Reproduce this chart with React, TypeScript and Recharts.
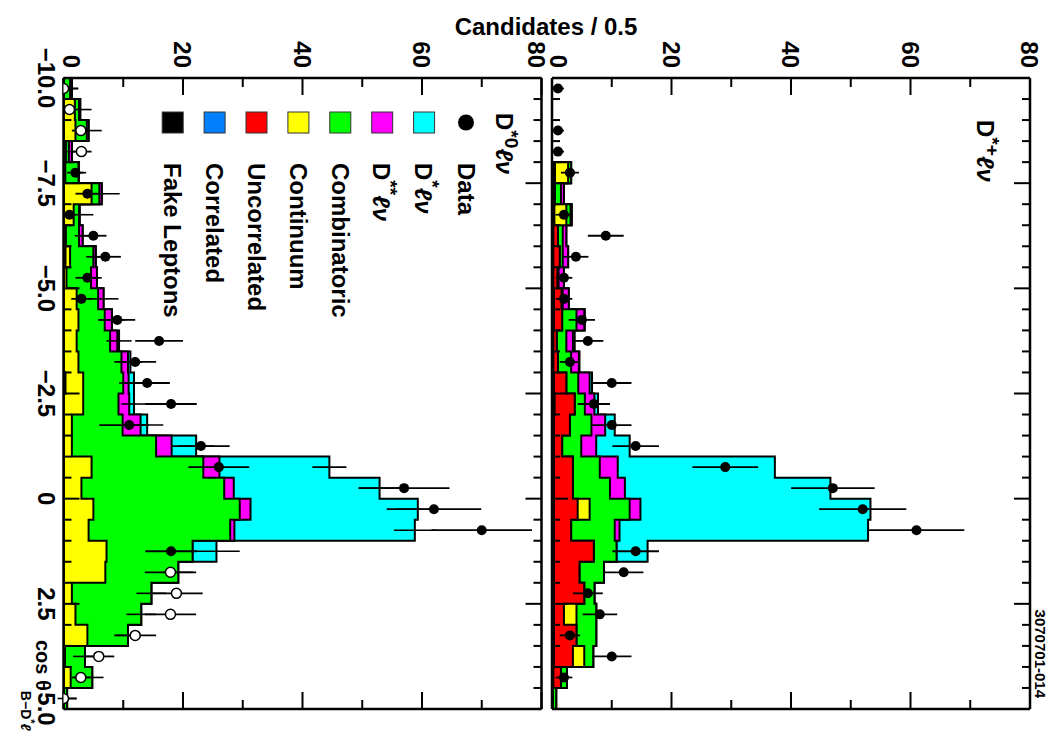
import React from 'react';
import { ComposedChart, Area, Scatter, XAxis, YAxis, ErrorBar, Legend, ReferenceLine } from 'recharts';

const FONT = '"Liberation Sans", Arial, Helvetica, sans-serif';

// The figure is laid out upright (731 x 1056) and then turned a quarter turn clockwise.
const PAGE_W = 1056;
const FRAME_W = 731;
const FRAME_H = 1056;
const PLOT_W = 631; // cos axis length in px
const PLOT_H = 478; // count axis length in px

// ---- binning of cos(theta_B-D*l): 30 bins, 0.5 wide, from -10 to 5 ----
const binLowEdges = [
  -10, -9.5, -9, -8.5, -8, -7.5, -7, -6.5, -6, -5.5, -5, -4.5, -4, -3.5, -3,
  -2.5, -2, -1.5, -1, -0.5, 0, 0.5, 1, 1.5, 2, 2.5, 3, 3.5, 4, 4.5,
];
const binCenters = [
  -9.75, -9.25, -8.75, -8.25, -7.75, -7.25, -6.75, -6.25, -5.75, -5.25, -4.75, -4.25, -3.75, -3.25, -2.75,
  -2.25, -1.75, -1.25, -0.75, -0.25, 0.25, 0.75, 1.25, 1.75, 2.25, 2.75, 3.25, 3.75, 4.25, 4.75,
];
const COS_MIN = -10;
const COS_MAX = 5;
const COUNT_MAX = 80;

const cosMajorTicks = [-10, -7.5, -5, -2.5, 0, 2.5, 5];
const cosMinorTicks = [
  -9.5, -9, -8.5, -8, -7, -6.5, -6, -5.5, -4.5, -4, -3.5, -3,
  -2, -1.5, -1, -0.5, 0.5, 1, 1.5, 2, 3, 3.5, 4, 4.5,
];
const countMajorTicks = [0, 20, 40, 60, 80];
const countMinorTicks = [10, 30, 50, 70];

// ---- D*+ l nu sample: expected contributions per bin ----
const fakePlus = [0, 0, 0, 0, 0.2, 0.2, 0.2, 0.2, 0.2, 0.2, 0.3, 0.3, 0.2, 0.2, 0.3, 0.4, 0.3, 0.3, 0.3, 0.3, 0.3, 0.3, 0.3, 0.3, 0.3, 0.3, 0.3, 0.3, 0.2, 0.1];
const corrPlus = [0, 0, 0, 0, 0, 0, 0, 0, 0, 0, 0, 0, 0, 0, 0, 0, 0, 0, 0, 0, 0, 0, 0, 0, 0, 0, 0, 0, 0, 0];
const uncPlus = [0, 0, 0, 0, 0.3, 0.3, 0.2, 0.8, 1.1, 0.7, 1.3, 1.4, 0.6, 0.8, 2.1, 3.4, 2.7, 1.4, 3.2, 3.2, 4.0, 2.9, 6.7, 4.3, 5.1, 1.7, 3.8, 3.2, 1.3, 0];
const contPlus = [0, 0, 0, 0, 2.2, 0, 2.0, 0, 0, 0, 0, 0, 0, 0, 0, 0, 0, 0, 0, 0, 2.0, 0, 0, 0, 0, 2.1, 0, 1.9, 0, 0];
const combPlus = [0, 0, 0, 0, 0.5, 1.0, 0.7, 0.8, 0.5, 0.2, 0.2, 2.4, 1.6, 2.2, 2.0, 1.7, 3.6, 3.2, 4.5, 6.2, 6.7, 7.3, 3.8, 4.1, 1.7, 3.3, 3.3, 1.5, 1.0, 0.6];
const dssPlus = [0, 0, 0, 0, 0, 0.5, 0.2, 0.6, 0.9, 0.9, 1.0, 1.3, 1.1, 1.3, 1.9, 1.6, 2.3, 2.5, 3.0, 2.5, 1.8, 0.8, 0, 0, 0, 0, 0, 0, 0, 0];
const dsPlus = [0, 0, 0, 0, 0, 0, 0, 0, 0, 0, 0, 0.1, 0.3, 0.1, 0.4, 0.6, 1.6, 5.6, 26.3, 34.4, 38.5, 41.6, 5.2, 0, 0, 0, 0, 0, 0, 0];

// D*+ l nu data (null = empty bin) and its uncertainties
const dataPlus = [1, null, 1, 1, 3, null, 2, 9, 4, 2, 2, 5, 6, 3, 10, 7, 10, 14, 29, 47, 52, 61, 14, 12, 6, 8, 3, 10, 2, null];
const errPlus = [1.0, 0, 1.0, 1.0, 1.5, 0, 1.4, 3.0, 2.1, 1.4, 1.4, 2.2, 2.6, 1.7, 3.3, 2.7, 3.3, 3.9, 5.5, 7.0, 7.3, 8.0, 3.9, 3.3, 2.5, 2.9, 1.7, 3.3, 1.4, 0];

// ---- D*0 l nu sample: expected contributions per bin ----
const fakeZero = [0, 0, 0, 0, 0, 0, 0, 0, 0, 0, 0, 0, 0, 0, 0, 0, 0, 0, 0, 0, 0, 0, 0, 0, 0, 0, 0, 0.2, 0, 0];
const corrZero = [0, 0, 0, 0, 0, 0, 0, 0, 0.3, 0, 0, 0, 0, 0, 0.3, 0, 0, 0, 0, 0, 0, 0, 0, 0, 0, 0, 0, 0, 0, 0];
const uncZero = [0, 0, 0, 0, 0, 0, 0, 0, 0, 0, 0, 0, 0, 0, 0, 0, 0, 0, 0, 0, 0, 0, 0, 0, 0, 0, 0, 0, 0, 0];
const contZero = [0, 1.9, 2.0, 0.4, 0.3, 4.7, 1.7, 0.4, 0.8, 0.5, 2.2, 2.5, 2.2, 2.5, 3.0, 3.3, 1.4, 1.4, 4.7, 3.0, 5.0, 4.2, 7.2, 7.0, 1.4, 2.0, 4.0, 0, 1.2, 0];
const combZero = [1.1, 0.7, 1.9, 0.5, 2.2, 1.3, 0.9, 2.2, 3.9, 4.1, 3.6, 4.4, 5.6, 7.2, 6.7, 5.9, 8.5, 14.1, 18.7, 23.9, 24.5, 23.7, 14.4, 12.2, 13.3, 11.0, 6.8, 3.4, 3.6, 0.6];
const dssZero = [0.3, 0.2, 0.3, 0.5, 0.1, 0.4, 0.1, 0.6, 0.4, 1.0, 0.9, 1.2, 1.2, 1.1, 0.9, 1.8, 3.0, 2.6, 2.7, 1.6, 1.8, 0.7, 0, 0, 0, 0, 0, 0, 0, 0];
const dsZero = [0, 0, 0, 0, 0, 0, 0, 0, 0, 0, 0, 0, 0.3, 0.4, 0.9, 0.8, 1.1, 4.1, 18.4, 24.4, 28.0, 30.2, 4.0, 0, 0, 0, 0, 0, 0, 0];

// D*0 l nu data: central region (solid markers) and outer bins (hollow markers)
const dataZeroSolid = [null, null, null, null, 2, 4, 1, 5, 7, 4, 3, 9, 16, 12, 14, 18, 11, 23, 26, 57, 62, 70, 18, null, null, null, null, null, null, null];
const dataZeroHollow = [0, 1.0, 2.9, 3.0, null, null, null, null, null, null, null, null, null, null, null, null, null, null, null, null, null, null, null, 17.9, 18.9, 17.9, 12.0, 5.9, 2.9, 0];
const errZeroLow = [0, 0.75, 1.5, 1.7, 1.4, 2.0, 1.0, 2.2, 2.6, 2.0, 1.7, 3.0, 4.0, 3.5, 3.8, 4.3, 5.0, 4.8, 5.1, 7.6, 7.9, 8.4, 4.3, 4.3, 4.4, 4.3, 3.5, 2.6, 1.5, 0];
const errZeroHigh = [2.4, 0.75, 1.5, 1.7, 1.4, 2.0, 1.0, 2.2, 2.6, 2.0, 1.7, 3.0, 4.0, 3.5, 3.8, 4.3, 3.3, 4.8, 5.1, 7.6, 7.9, 8.4, 4.3, 4.3, 4.4, 4.3, 3.5, 2.6, 1.5, 2.2];
// uncertainty on the summed expectation (D*0 l nu)
const sumErrZero = [1.1, 1.9, 2.2, 0.9, 1.2, 3.0, 2.3, 1.3, 1.6, 0.8, 2.5, 2.3, 2.1, 2.0, 2.5, 2.1, 2.7, 3.0, 2.85, 3.5, 3.5, 3.5, 3.9, 2.5, 2.5, 2.5, 2.0, 2.0, 1.9, 1.6];

// Stack order, bottom to top
const STACK = ['fake', 'corr', 'unc', 'cont', 'comb', 'dss', 'ds'];
const FILL: Record<string, string> = {
  fake: '#000000',
  corr: '#0080ff',
  unc: '#ff0000',
  cont: '#ffff00',
  comb: '#00ff00',
  dss: '#ff00ff',
  ds: '#00ffff',
};

type Parts = Record<string, number[]>;

// Cumulative step rows at the bin lower edges, closed by the upper edge of the last bin
function buildRows(parts: Parts) {
  const rows = binLowEdges.map((x, i) => {
    const r: Record<string, number> = { x };
    let sum = 0;
    for (const k of STACK) {
      sum += parts[k][i];
      r[k] = Math.round(sum * 1000) / 1000;
    }
    return r;
  });
  rows.push({ ...rows[rows.length - 1], x: COS_MAX });
  return rows;
}

function buildPoints(values: (number | null)[], lo: number[], hi: number[]) {
  const pts: { x: number; y: number; err: number[] }[] = [];
  values.forEach((v, i) => {
    if (v !== null) pts.push({ x: binCenters[i], y: v, err: [lo[i], hi[i]] });
  });
  return pts;
}

// Tick marks pointing into the frame, expressed in data units of each axis
const COS_PER_PX = (COS_MAX - COS_MIN) / PLOT_W;
const COUNT_PER_PX = COUNT_MAX / PLOT_H;
type Seg = { key: string; a: { x: number; y: number }; b: { x: number; y: number } };
function frameTicks(): Seg[] {
  const segs: Seg[] = [];
  const cosTicks = [
    ...cosMajorTicks.map((c) => ({ c, len: 16 })),
    ...cosMinorTicks.map((c) => ({ c, len: 8 })),
  ];
  cosTicks.forEach(({ c, len }) => {
    const d = len * COUNT_PER_PX;
    segs.push({ key: `cb${c}`, a: { x: c, y: 0 }, b: { x: c, y: d } });
    segs.push({ key: `ct${c}`, a: { x: c, y: COUNT_MAX }, b: { x: c, y: COUNT_MAX - d } });
  });
  const countTicks = [
    ...countMajorTicks.map((n) => ({ n, len: 17 })),
    ...countMinorTicks.map((n) => ({ n, len: 9 })),
  ];
  countTicks.forEach(({ n, len }) => {
    const d = len * COS_PER_PX;
    segs.push({ key: `nl${n}`, a: { x: COS_MIN, y: n }, b: { x: COS_MIN + d, y: n } });
    segs.push({ key: `nr${n}`, a: { x: COS_MAX, y: n }, b: { x: COS_MAX - d, y: n } });
  });
  return segs;
}
const TICK_SEGMENTS = frameTicks();

const AXIS_LINE = { stroke: '#000', strokeWidth: 2.5 };
const LABEL_STYLE = { fontFamily: FONT, fontWeight: 'bold' as const, fontSize: 24, fill: '#000' };

const SolidMarker = (p: any) => <circle cx={p.cx} cy={p.cy} r={5} fill="#000" />;
const HollowMarker = (p: any) => <circle cx={p.cx} cy={p.cy} r={5} fill="#fff" stroke="#000" strokeWidth={1.5} />;
const NoMarker = () => <g />;

function fmtCos(v: number) {
  if (v === 0) return '0';
  return (v < 0 ? '\u2212' : '') + Math.abs(v).toFixed(1);
}

const CosLabel = (p: any) => (
  <text x={p.x} y={p.y + 8.5} dy="0.71em" textAnchor="middle" {...LABEL_STYLE}>{fmtCos(p.payload.value)}</text>
);

function makeCountLabel(shift: (v: number) => number) {
  return (p: any) => (
    <text x={p.x - 10} y={p.y + shift(p.payload.value)} dy="0.355em" textAnchor="end" {...LABEL_STYLE}>
      {p.payload.value}
    </text>
  );
}

// Decay-mode label with a raised superscript, e.g. D*+ l nu
function Mode({ sup, tail = '\u2113\u03bd' }: { sup: string; tail?: string }) {
  return (
    <>
      <tspan>D</tspan>
      <tspan dy={-9} fontSize="0.8em">{sup}</tspan>
      <tspan dy={9} fontStyle="italic">{tail}</tspan>
    </>
  );
}

const legendRows = [
  { key: 'data', text: 'Data' },
  { key: 'ds', sup: '*' },
  { key: 'dss', sup: '**' },
  { key: 'comb', text: 'Combinatoric' },
  { key: 'cont', text: 'Continuum' },
  { key: 'unc', text: 'Uncorrelated' },
  { key: 'corr', text: 'Correlated' },
  { key: 'fake', text: 'Fake Leptons' },
];

function LegendBox() {
  const x0 = 112;
  const rowTop = 85;
  const rowStep = 41.9;
  return (
    <svg width={FRAME_W} height={551} fontFamily={FONT} fontWeight="bold" fontSize={24} style={{ display: 'block' }}>
      <text x={113} y={55} fill="#000">
        <Mode sup="*0" />
      </text>
      {legendRows.map((r, i) => {
        const cy = rowTop + i * rowStep;
        return (
          <g key={r.key}>
            {r.key === 'data' ? (
              <circle cx={x0 + 10.5} cy={cy} r={8} fill="#000" />
            ) : (
              <rect x={x0} y={cy - 10.5} width={21} height={21} fill={FILL[r.key]} stroke="#333" strokeWidth={1} />
            )}
            <text x={163} y={cy} dominantBaseline="central" fill="#000">
              {r.text ? r.text : <Mode sup={r.sup as string} />}
            </text>
          </g>
        );
      })}
    </svg>
  );
}

const DRAW_ORDER = ['ds', 'dss', 'comb', 'cont', 'unc', 'corr', 'fake'];

function HistPanel(props: {
  rows: Record<string, number>[];
  solid: any[];
  hollow: any[];
  sumErr: any[];
  height: number;
  margin: { top: number; right: number; bottom: number; left: number };
  cosLabels: boolean;
  shift: (v: number) => number;
  withLegend: boolean;
}) {
  const { rows, solid, hollow, sumErr, height, margin, cosLabels, shift, withLegend } = props;
  const common = { type: 'number' as const, allowDataOverflow: true, interval: 0 as const, tickSize: 0, tickMargin: 0, tickLine: false, axisLine: AXIS_LINE };
  return (
    <ComposedChart width={FRAME_W} height={height} margin={margin} data={rows}>
      <XAxis xAxisId="cos" dataKey="x" domain={[COS_MIN, COS_MAX]} ticks={cosMajorTicks} height={1}
        tick={cosLabels ? CosLabel : false} {...common} />
      <XAxis xAxisId="cosTop" orientation="top" domain={[COS_MIN, COS_MAX]} ticks={cosMajorTicks} height={1}
        tick={false} {...common} />
      <YAxis yAxisId="n" domain={[0, COUNT_MAX]} ticks={countMajorTicks} width={1}
        tick={makeCountLabel(shift)} {...common} />
      <YAxis yAxisId="nRight" orientation="right" domain={[0, COUNT_MAX]} ticks={countMajorTicks} width={1}
        tick={false} {...common} />

      {DRAW_ORDER.map((k) => (
        <Area key={k} xAxisId="cos" yAxisId="n" type="stepAfter" dataKey={k} stroke="#000" strokeWidth={2}
          fill={FILL[k]} fillOpacity={1} dot={false} activeDot={false} isAnimationActive={false} />
      ))}

      {TICK_SEGMENTS.map((s) => (
        <ReferenceLine key={s.key} xAxisId="cos" yAxisId="n" segment={[s.a, s.b]} stroke="#000" strokeWidth={2} ifOverflow="visible" />
      ))}

      {sumErr.length > 0 && (
        <Scatter xAxisId="cos" yAxisId="n" data={sumErr} dataKey="y" shape={NoMarker} isAnimationActive={false}>
          <ErrorBar dataKey="err" direction="y" width={0} stroke="#000" strokeWidth={1.6} />
        </Scatter>
      )}
      <Scatter xAxisId="cos" yAxisId="n" data={solid} dataKey="y" shape={SolidMarker} isAnimationActive={false}>
        <ErrorBar dataKey="err" direction="y" width={0} stroke="#000" strokeWidth={1.8} />
      </Scatter>
      {hollow.length > 0 && (
        <Scatter xAxisId="cos" yAxisId="n" data={hollow} dataKey="y" shape={HollowMarker} isAnimationActive={false}>
          <ErrorBar dataKey="err" direction="y" width={0} stroke="#000" strokeWidth={1.8} />
        </Scatter>
      )}

      {withLegend && (
        <Legend layout="horizontal" verticalAlign="middle" align="center" content={() => <LegendBox />}
          wrapperStyle={{ left: 0, top: 0, width: FRAME_W, height: 551, pointerEvents: 'none' }} />
      )}
    </ComposedChart>
  );
}

export default function App() {
  const partsPlus: Parts = { fake: fakePlus, corr: corrPlus, unc: uncPlus, cont: contPlus, comb: combPlus, dss: dssPlus, ds: dsPlus };
  const partsZero: Parts = { fake: fakeZero, corr: corrZero, unc: uncZero, cont: contZero, comb: combZero, dss: dssZero, ds: dsZero };
  const rowsPlus = buildRows(partsPlus);
  const rowsZero = buildRows(partsZero);

  const solidPlus = buildPoints(dataPlus, errPlus, errPlus);
  const solidZero = buildPoints(dataZeroSolid, errZeroLow, errZeroHigh);
  const hollowZero = buildPoints(dataZeroHollow, errZeroLow, errZeroHigh);
  const totalZero = rowsZero.slice(0, binCenters.length).map((r) => r.ds);
  const sumErrPointsZero = buildPoints(totalZero, sumErrZero, sumErrZero);

  return (
    <div
      style={{
        position: 'absolute',
        left: 0,
        top: 0,
        width: FRAME_W,
        height: FRAME_H,
        transformOrigin: '0 0',
        transform: `translate(${PAGE_W}px, 0px) rotate(90deg)`,
        background: '#fff',
        overflow: 'hidden',
      }}
    >
      <div style={{ position: 'absolute', left: 0, top: 0 }}>
        <HistPanel rows={rowsPlus} solid={solidPlus} hollow={[]} sumErr={[]} height={520}
          margin={{ top: 25, right: 21, bottom: 15, left: 77 }} cosLabels={false}
          shift={(v) => (v === 0 ? -7 : 0)} withLegend={false} />
      </div>
      <div style={{ position: 'absolute', left: 0, top: 505 }}>
        <HistPanel rows={rowsZero} solid={solidZero} hollow={hollowZero} sumErr={sumErrPointsZero} height={551}
          margin={{ top: 8.5, right: 21, bottom: 62.5, left: 77 }} cosLabels={true}
          shift={(v) => (v === 0 ? -8 : v === COUNT_MAX ? 4.5 : 0)} withLegend={true} />
      </div>
      <svg width={FRAME_W} height={FRAME_H} style={{ position: 'absolute', left: 0, top: 0, pointerEvents: 'none' }}
        fontFamily={FONT} fontWeight="bold" fill="#000">
        <text transform="translate(35,510) rotate(-90)" textAnchor="middle" fontSize={24}>Candidates / 0.5</text>
        <text x={120} y={79} fontSize={24}>
          <Mode sup="*+" />
        </text>
        <text x={698} y={21} fontSize={15} textAnchor="end">3070701-014</text>
        <text x={640} y={1020} fontSize={20}>
          cos {'\u03b8'}
          <tspan dy={15} fontSize={14}>B{'\u2212'}D</tspan>
          <tspan dy={-6} fontSize={11}>*</tspan>
          <tspan dy={6} fontSize={14} fontStyle="italic">{'\u2113'}</tspan>
        </text>
      </svg>
    </div>
  );
}
